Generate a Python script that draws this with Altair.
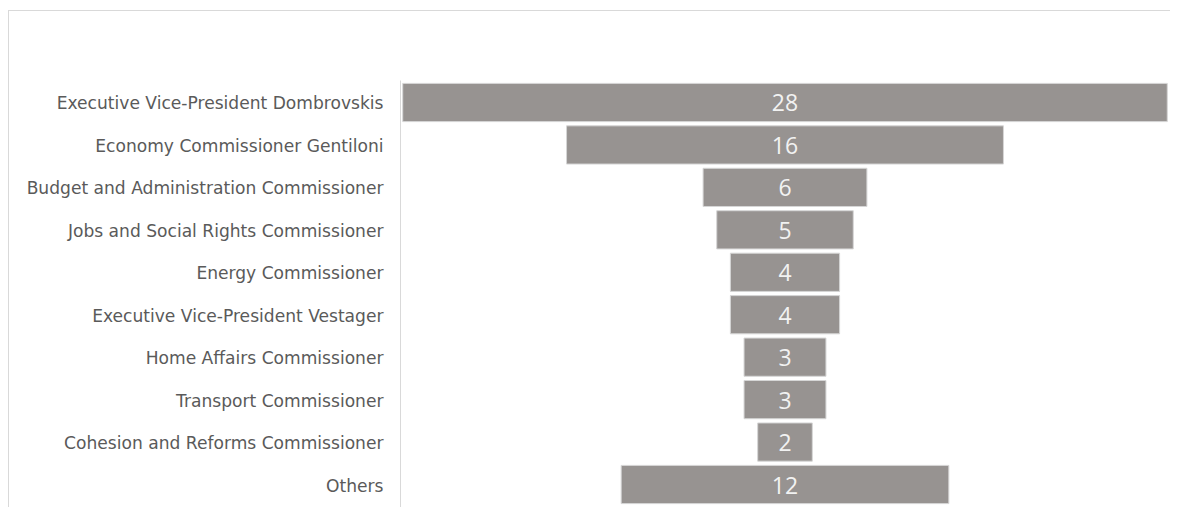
import altair as alt
import pandas as pd

categories = [
    "Executive Vice-President Dombrovskis",
    "Economy Commissioner Gentiloni",
    "Budget and Administration Commissioner",
    "Jobs and Social Rights Commissioner",
    "Energy Commissioner",
    "Executive Vice-President Vestager",
    "Home Affairs Commissioner",
    "Transport Commissioner",
    "Cohesion and Reforms Commissioner",
    "Others",
]
values = [28, 16, 6, 5, 4, 4, 3, 3, 2, 12]

df = pd.DataFrame({"category": categories, "value": values})

W, H = 770, 427
PAD_L, PAD_T = 392, 72

y_enc = alt.Y(
    "category:N",
    sort=categories,
    title=None,
    scale=alt.Scale(paddingInner=0.1, paddingOuter=0.08),
    axis=alt.Axis(
        ticks=False,
        labelPadding=17,
        labelOffset=2,
        labelFont="DejaVu Sans",
        labelFontSize=17.1,
        labelColor="#5a5a5a",
        domainColor="#d9d9d9",
        labelLimit=400,
    ),
)
x_scale = alt.Scale(domain=[-14.1, 14.1], nice=False)

base = alt.Chart(df).transform_calculate(
    lo="-datum.value/2", hi="datum.value/2", mid="0"
)

bars = base.mark_bar(color="#979391", stroke="#d6d6d6", strokeWidth=1).encode(
    y=y_enc,
    x=alt.X("lo:Q", scale=x_scale, axis=None),
    x2="hi:Q",
)

labels = base.mark_text(
    color="#f2f2f2", font="Open Sans", fontSize=23, align="center",
    baseline="middle", dy=2
).encode(
    y=alt.Y("category:N", sort=categories),
    x=alt.X("mid:Q", scale=x_scale),
    text="value:Q",
)

frame_df = pd.DataFrame({"k": [0]})
top_border = alt.Chart(frame_df).mark_rule(color="#d9d9d9", strokeWidth=1).encode(
    x=alt.value(-PAD_L), x2=alt.value(W), y=alt.value(-69.5)
)
left_border = alt.Chart(frame_df).mark_rule(color="#d9d9d9", strokeWidth=1).encode(
    x=alt.value(-391.5), y=alt.value(-69.5), y2=alt.value(H)
)

chart = (
    alt.layer(top_border, left_border, bars, labels)
    .properties(
        width=W,
        height=H,
        autosize=alt.AutoSizeParams(type="none"),
        padding={"left": PAD_L, "top": PAD_T, "right": 0, "bottom": 0},
    )
    .configure_view(stroke=None)
)

chart.save("out.html", embed_options={"renderer": "svg", "actions": False})
